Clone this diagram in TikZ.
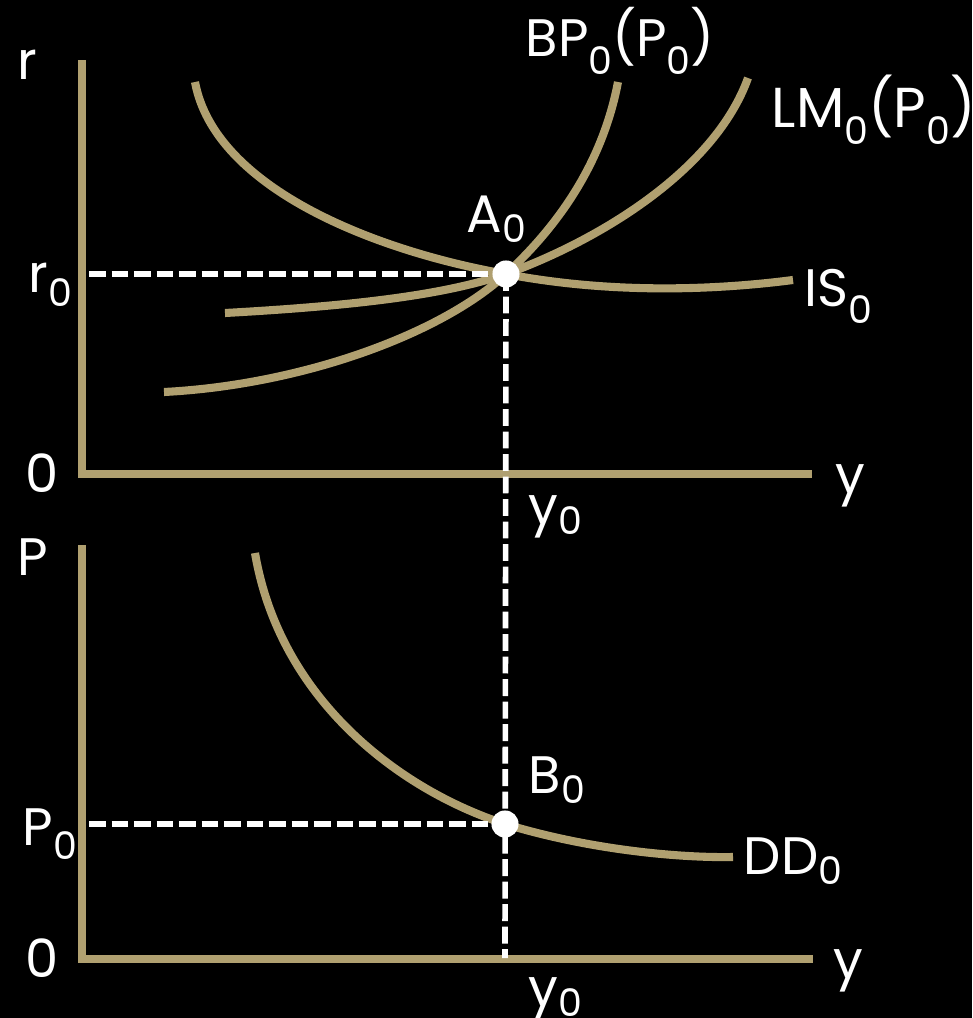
\documentclass[tikz,border=0pt]{standalone}
\usepackage{fontspec}
\setmainfont{Poppins}
\definecolor{curvecol}{RGB}{176,160,112}
\newcommand{\sbz}[1][4pt]{\raisebox{-#1}{\fontsize{10.8}{11}\selectfont 0}}
\begin{document}
\begin{tikzpicture}[x=0.01cm,y=-0.01cm,
  curve/.style={draw=curvecol,line width=2.3pt},
  axisline/.style={draw=curvecol,line width=2.3pt},
  dashline/.style={draw=white,line width=1.6pt,dash pattern=on 4.8pt off 1.6pt},
  dot/.style={circle,fill=white,inner sep=0pt,minimum size=7.7pt},
  lbl/.style={text=white,font=\fontsize{15}{18}\selectfont,inner sep=0pt,anchor=base west}]
\fill[black] (0,0) rectangle (972,1018);
\useasboundingbox (0,0) rectangle (972,1018);
% key points
\coordinate (a) at (506,274);
\coordinate (b) at (505,824);
\coordinate (is1) at (195,82);
\coordinate (is2) at (793,280);
\coordinate (lm1) at (225,313);
\coordinate (lm2) at (748,78);
\coordinate (bp1) at (164,392);
\coordinate (bp2) at (618,82);
\coordinate (dd1) at (255,553);
\coordinate (dd2) at (733,857);
\coordinate (o1) at (82,474);
\coordinate (o2) at (82,959);
\coordinate (ytop) at (82,60);
\coordinate (xend1) at (812,474);
\coordinate (ptop) at (82,545);
\coordinate (xend2) at (813,959);
\coordinate (rd) at (89,274);
\coordinate (pd) at (89,824);
\coordinate (vend) at (505,958);
% axes
\draw[axisline] (ytop) -- (o1) -- (xend1);
\draw[axisline] (ptop) -- (o2) -- (xend2);
% curves
\draw[curve] (is1) .. controls (215,190) and (380,252) .. (a) .. controls (600,292) and (700,292) .. (is2);
\draw[curve] (lm1) .. controls (370,305) and (450,293) .. (a) .. controls (600,240) and (715,170) .. (lm2);
\draw[curve] (bp1) .. controls (300,385) and (440,335) .. (a) .. controls (570,215) and (605,150) .. (bp2);
\draw[curve] (dd1) .. controls (280,700) and (400,790) .. (b) .. controls (590,850) and (680,858) .. (dd2);
% dashed guides
\draw[dashline] (rd) -- (a);
\draw[dashline] (pd) -- (b);
\draw[dashline] (a) -- (vend);
% points
\node[dot] (A) at (a) {};
\node[dot] (B) at (b) {};
% labels
\node[lbl] (lr) at (17,80) {r};
\node[lbl] (lr0) at (28,292) {r\sbz};
\node[lbl] (lo1) at (25,492) {0};
\node[lbl] (lp) at (17,575) {P};
\node[lbl] (lp0) at (22,845) {P\sbz};
\node[lbl] (lo2) at (25,977) {0};
\node[lbl] (ly1) at (835,493) {y};
\node[lbl] (ly01) at (528,524) {y\sbz[3pt]};
\node[lbl] (ly2) at (833,978) {y};
\node[lbl] (ly02) at (528,1006) {y\sbz[3pt]};
\node[lbl] (lA) at (466,232) {A\sbz[3pt]};
\node[lbl] (lB) at (528,793) {B\sbz[3pt]};
\node[lbl] (lBP) at (525,57) {BP\sbz[5pt](P\sbz[5pt])};
\node[lbl,font=\fontsize{16}{19}\selectfont] (lLM) at (771,127) {LM\sbz[5pt](P\sbz[5pt])};
\node[lbl] (lIS) at (804,306) {IS\sbz[5pt]};
\node[lbl] (lDD) at (743,874) {DD\sbz[3pt]};
\end{tikzpicture}
\end{document}
